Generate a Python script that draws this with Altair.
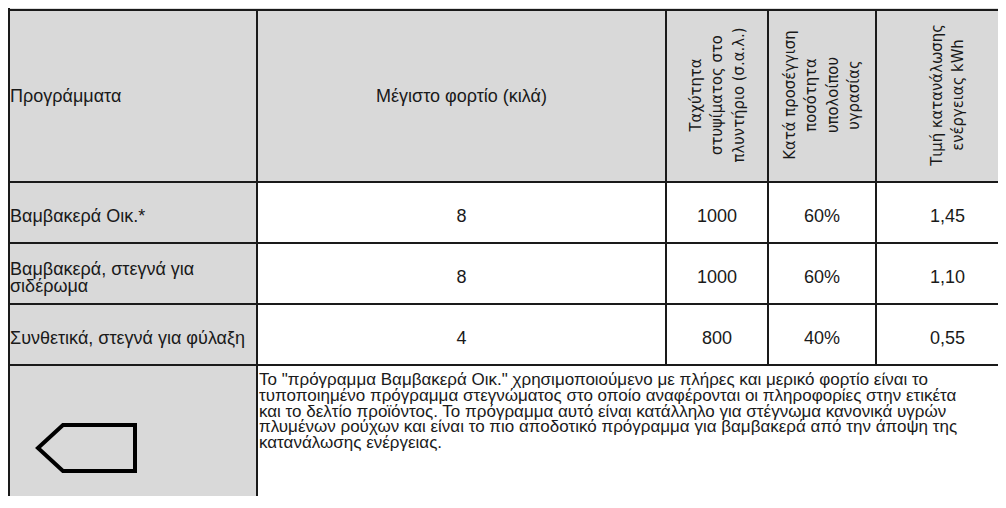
import altair as alt
import pandas as pd

# ---------------- data (text content of the table) ----------------
header_labels = [
    ["Προγράμματα"],
    ["Μέγιστο φορτίο (κιλά)"],
    ["Ταχύτητα", "στυψίματος στο", "πλυντήριο (σ.α.λ.)"],
    ["Κατά προσέγγιση", "ποσότητα", "υπολοίπου", "υγρασίας"],
    ["Τιμή κατανάλωσης", "ενέργειας kWh"],
]
programs = [
    ["Βαμβακερά Οικ.*"],
    ["Βαμβακερά, στεγνά για", "σιδέρωμα"],
    ["Συνθετικά, στεγνά για φύλαξη"],
]
max_load_kg = ["8", "8", "4"]
spin_speed_rpm = ["1000", "1000", "800"]
residual_moisture = ["60%", "60%", "40%"]
energy_kwh = ["1,45", "1,10", "0,55"]
footnote_lines = [
    "Το \"πρόγραμμα Βαμβακερά Οικ.\" χρησιμοποιούμενο με πλήρες και μερικό φορτίο είναι το",
    "τυποποιημένο πρόγραμμα στεγνώματος στο οποίο αναφέρονται οι πληροφορίες στην ετικέτα",
    "και το δελτίο προϊόντος. Το πρόγραμμα αυτό είναι κατάλληλο για στέγνωμα κανονικά υγρών",
    "πλυμένων ρούχων και είναι το πιο αποδοτικό πρόγραμμα για βαμβακερά από την άποψη της",
    "κατανάλωσης ενέργειας.",
]

# ---------------- layout (grid of the table) ----------------
X_EDGES = [9, 257, 666, 768, 876, 1019]
Y_EDGES = [10, 182, 243, 304, 365, 530]
GRAY = "#d9d9d9"
INK = "#1a1a1a"
FONT = "Liberation Sans Narrow, Liberation Sans, Arial, sans-serif"
ROT_FONT = "DejaVu Sans Condensed, DejaVu Sans, sans-serif"
W, H = 990, 488
BODY_LH = 17
ROT_LH = 21.5
FOOT_LH = 15.8

xs = alt.Scale(domain=[8, 8 + W], nice=False, zero=False)
ys = alt.Scale(domain=[8, 8 + H], nice=False, zero=False, reverse=True)

# cells
cells = []
for c in range(5):
    cells.append(dict(x0=X_EDGES[c], x1=X_EDGES[c + 1], y0=Y_EDGES[0], y1=Y_EDGES[1], fill=GRAY))
for r in range(3):
    for c in range(5):
        cells.append(dict(x0=X_EDGES[c], x1=X_EDGES[c + 1], y0=Y_EDGES[r + 1], y1=Y_EDGES[r + 2],
                          fill=GRAY if c == 0 else "white"))
cells.append(dict(x0=X_EDGES[0], x1=X_EDGES[1], y0=Y_EDGES[4], y1=Y_EDGES[5], fill=GRAY))
cells.append(dict(x0=X_EDGES[1], x1=X_EDGES[5], y0=Y_EDGES[4], y1=Y_EDGES[5], fill="white"))
cells_df = pd.DataFrame(cells)

def cx(c):
    return (X_EDGES[c] + X_EDGES[c + 1]) / 2

def cy(r):
    return (Y_EDGES[r] + Y_EDGES[r + 1]) / 2

rect = alt.Chart(cells_df).mark_rect(stroke=INK, strokeWidth=2, clip=True).encode(
    x=alt.X("x0:Q", scale=xs, axis=None), x2="x1:Q",
    y=alt.Y("y0:Q", scale=ys, axis=None), y2="y1:Q",
    fill=alt.Fill("fill:N", scale=None),
)

left_rule = alt.Chart(pd.DataFrame({"x": [X_EDGES[0]], "y0": [8], "y1": [530]})).mark_rule(
    stroke=INK, strokeWidth=2, clip=True).encode(
    x=alt.X("x:Q", scale=xs, axis=None),
    y=alt.Y("y0:Q", scale=ys, axis=None), y2="y1:Q")

# header texts (horizontal)
hdr_left = pd.DataFrame({"x": [X_EDGES[0] + 1], "y": [cy(0)], "t": [header_labels[0]]})
hdr_center = pd.DataFrame({"x": [cx(1)], "y": [cy(0)], "t": [header_labels[1]]})
# rotated headers: centre the block of lines in its column
hdr_rot = pd.DataFrame({
    "x": [cx(c) - (len(header_labels[c]) - 1) * ROT_LH / 2 for c in range(2, 5)],
    "y": [cy(0) - 1] * 3,
    "t": header_labels[2:],
})

body_left = pd.DataFrame({
    "x": [X_EDGES[0] + 1] * 3,
    "y": [cy(r + 1) - (len(programs[r]) - 1) * BODY_LH / 2 + (1 if len(programs[r]) > 1 else 0)
          for r in range(3)],
    "t": programs,
})
vals = []
for r in range(3):
    for c, col in zip(range(1, 5), [max_load_kg, spin_speed_rpm, residual_moisture, energy_kwh]):
        vals.append(dict(x=cx(c), y=cy(r + 1), t=col[r]))
body_vals = pd.DataFrame(vals)

foot = pd.DataFrame({"x": [X_EDGES[1] + 2], "y": [Y_EDGES[4] + 7], "t": [footnote_lines]})

def txt(df, **kw):
    return alt.Chart(df).mark_text(color=INK, **kw).encode(
        x=alt.X("x:Q", scale=xs, axis=None),
        y=alt.Y("y:Q", scale=ys, axis=None),
        text="t",
    )

t_hdr_left = txt(hdr_left, align="left", baseline="middle", font=FONT, fontSize=18, dy=1)
t_hdr_center = txt(hdr_center, align="center", baseline="middle", font=FONT, fontSize=18, dy=1)
t_hdr_rot = txt(hdr_rot, align="center", baseline="middle", font=ROT_FONT, fontSize=16.5,
                angle=270, lineHeight=ROT_LH)
t_body_left = txt(body_left, align="left", baseline="middle", font=FONT, fontSize=18,
                  lineHeight=BODY_LH, dy=4)
t_body_vals = txt(body_vals, align="center", baseline="middle", font=FONT, fontSize=18, dy=4)
t_foot = txt(foot, align="left", baseline="top", font=FONT, fontSize=17, lineHeight=FOOT_LH)

# tag-shaped icon in the last row
TAG = "M -1 0 L -0.485 -0.474 L 1 -0.474 L 1 0.474 L -0.485 0.474 Z"
icon = alt.Chart(pd.DataFrame({"x": [86.5], "y": [448]})).mark_point(
    shape=TAG, size=97 ** 2, filled=False, stroke="#000000", strokeWidth=4, opacity=1,
    strokeJoin="miter").encode(
    x=alt.X("x:Q", scale=xs, axis=None),
    y=alt.Y("y:Q", scale=ys, axis=None))

chart = alt.layer(
    rect, left_rule, t_hdr_left, t_hdr_center, t_hdr_rot, t_body_left, t_body_vals, t_foot, icon
).properties(width=W, height=H, padding=0, autosize=alt.AutoSizeParams(type="none")).configure_view(
    stroke=None).configure(background="white")

chart.save("out.html", embed_options={"renderer": "svg", "actions": False})
